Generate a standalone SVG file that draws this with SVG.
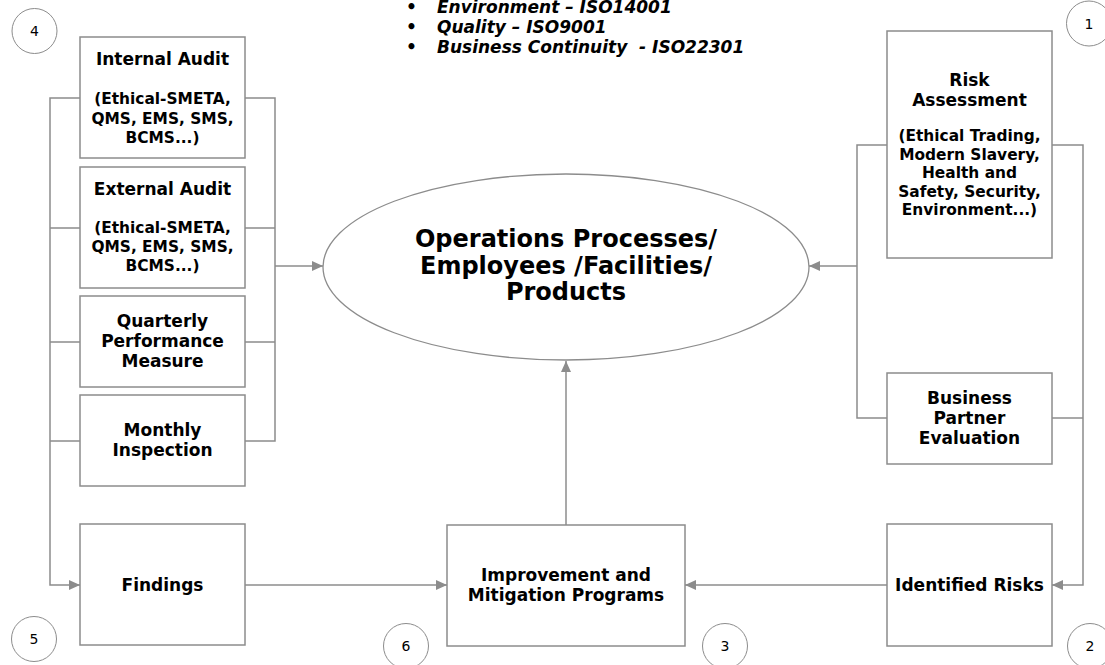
<svg xmlns="http://www.w3.org/2000/svg" width="1105" height="665" viewBox="0 0 1105 665">
<style>
.box{fill:#fff;stroke:#8c8c8c;stroke-width:1.5}
.ell{fill:#fff;stroke:#8c8c8c;stroke-width:1.3}
.num{fill:#fff;stroke:#8c8c8c;stroke-width:1}
.t{font-family:"DejaVu Sans",Verdana,sans-serif;font-weight:bold;font-size:17px;text-anchor:middle;fill:#000}
.s{font-size:15.4px}
.title{font-family:"DejaVu Sans",Verdana,sans-serif;font-weight:bold;font-size:24px;text-anchor:middle;fill:#000}
.n{font-family:"DejaVu Sans",Verdana,sans-serif;font-size:14px;text-anchor:middle;fill:#000}
.b{font-family:"DejaVu Sans",Verdana,sans-serif;font-weight:bold;font-style:italic;font-size:17px;fill:#000}
.c{fill:none;stroke:#8c8c8c;stroke-width:1.5}
</style>
<defs>
<marker id="ah" markerUnits="userSpaceOnUse" markerWidth="11" markerHeight="10" refX="11" refY="5" orient="auto">
<path d="M0,0 L11,5 L0,10 z" fill="#8c8c8c"/>
</marker>
</defs>

<g id="connectors">
<path class="c" d="M80,98 H50 V585 H80" marker-end="url(#ah)"/>
<path class="c" d="M50,228 H80 M50,342 H80 M50,441 H80"/>
<path class="c" d="M245,98 H275 V441 H245 M245,228 H275 M245,342 H275"/>
<path class="c" d="M275,266 H323" marker-end="url(#ah)"/>
<path class="c" d="M245,585 H447" marker-end="url(#ah)"/>
<path class="c" d="M566,525 V361" marker-end="url(#ah)"/>
<path class="c" d="M887,585 H685" marker-end="url(#ah)"/>
<path class="c" d="M887,145 H857 V418 H887"/>
<path class="c" d="M857,266 H809" marker-end="url(#ah)"/>
<path class="c" d="M1052,145 H1083 V585 H1052" marker-end="url(#ah)"/>
<path class="c" d="M1052,418 H1083"/>
</g>

<g id="bullets">
<text class="b" x="406" y="12.5" font-style="normal">•</text>
<text class="b" x="437" y="12.5">Environment – ISO14001</text>
<text class="b" x="406" y="32.5" font-style="normal">•</text>
<text class="b" x="437" y="32.5">Quality – ISO9001</text>
<text class="b" x="406" y="53" font-style="normal">•</text>
<text class="b" x="437" y="53" xml:space="preserve">Business Continuity  - ISO22301</text>
</g>

<g id="ops">
<ellipse class="ell" cx="566" cy="267" rx="243" ry="93"/>
<text class="title" x="566" y="247">Operations Processes/</text>
<text class="title" x="566" y="273.5">Employees /Facilities/</text>
<text class="title" x="566" y="300">Products</text>
</g>

<g id="internal-audit">
<rect class="box" x="80" y="37" width="165" height="121"/>
<text class="t" x="162.5" y="65">Internal Audit</text>
<text class="t s" x="162.5" y="104">(Ethical-SMETA,</text>
<text class="t s" x="162.5" y="123.5">QMS, EMS, SMS,</text>
<text class="t s" x="162.5" y="143">BCMS...)</text>
</g>

<g id="external-audit">
<rect class="box" x="80" y="167" width="165" height="121"/>
<text class="t" x="162.5" y="195">External Audit</text>
<text class="t s" x="162.5" y="233">(Ethical-SMETA,</text>
<text class="t s" x="162.5" y="252">QMS, EMS, SMS,</text>
<text class="t s" x="162.5" y="271">BCMS...)</text>
</g>

<g id="quarterly">
<rect class="box" x="80" y="296" width="165" height="91"/>
<text class="t" x="162.5" y="327">Quarterly</text>
<text class="t" x="162.5" y="347">Performance</text>
<text class="t" x="162.5" y="367">Measure</text>
</g>

<g id="monthly">
<rect class="box" x="80" y="395" width="165" height="91"/>
<text class="t" x="162.5" y="436">Monthly</text>
<text class="t" x="162.5" y="456">Inspection</text>
</g>

<g id="findings">
<rect class="box" x="80" y="524" width="165" height="121"/>
<text class="t" x="162.5" y="591">Findings</text>
</g>

<g id="improvement">
<rect class="box" x="447" y="525" width="238" height="121"/>
<text class="t" x="566" y="581">Improvement and</text>
<text class="t" x="566" y="601">Mitigation Programs</text>
</g>

<g id="identified-risks">
<rect class="box" x="887" y="524" width="165" height="122"/>
<text class="t" x="969.5" y="591">Identified Risks</text>
</g>

<g id="business-partner">
<rect class="box" x="887" y="373" width="165" height="91"/>
<text class="t" x="969.5" y="404">Business</text>
<text class="t" x="969.5" y="424">Partner</text>
<text class="t" x="969.5" y="443.5">Evaluation</text>
</g>

<g id="risk-assessment">
<rect class="box" x="887" y="31" width="165" height="227"/>
<text class="t" x="969.5" y="86">Risk</text>
<text class="t" x="969.5" y="106">Assessment</text>
<text class="t s" x="969.5" y="141">(Ethical Trading,</text>
<text class="t s" x="969.5" y="159.5">Modern Slavery,</text>
<text class="t s" x="969.5" y="178">Health and</text>
<text class="t s" x="969.5" y="196.5">Safety, Security,</text>
<text class="t s" x="969.5" y="215">Environment...)</text>
</g>

<g id="step-1"><circle class="num" cx="1089" cy="23.5" r="22.5"/><text class="n" x="1089" y="28.5">1</text></g>
<g id="step-2"><circle class="num" cx="1090" cy="646" r="22.5"/><text class="n" x="1090" y="651">2</text></g>
<g id="step-3"><circle class="num" cx="725" cy="646" r="22.5"/><text class="n" x="725" y="651">3</text></g>
<g id="step-4"><circle class="num" cx="34.5" cy="31" r="22.5"/><text class="n" x="34.5" y="36">4</text></g>
<g id="step-5"><circle class="num" cx="34" cy="639" r="22.5"/><text class="n" x="34" y="644">5</text></g>
<g id="step-6"><circle class="num" cx="406" cy="646" r="22.5"/><text class="n" x="406" y="651">6</text></g>
</svg>
